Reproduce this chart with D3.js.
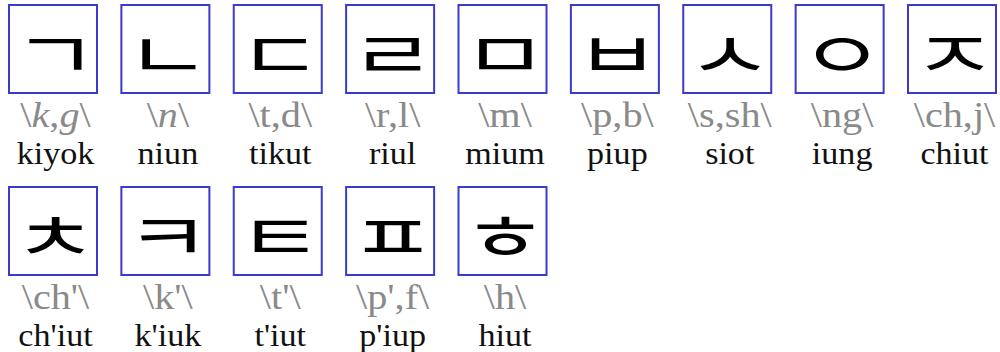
<!DOCTYPE html>
<html><head><meta charset="utf-8">
<script src="https://cdn.jsdelivr.net/npm/d3@7"></script>
<style>html,body{margin:0;padding:0;background:#fff;}svg{display:block;}</style>
</head><body>
<svg id="chart" width="1000" height="352"></svg>
<script>
// Data
const letters = ["ㄱ","ㄴ","ㄷ","ㄹ","ㅁ","ㅂ","ㅅ","ㅇ","ㅈ","ㅊ","ㅋ","ㅌ","ㅍ","ㅎ"];
const names = ["kiyok","niun","tikut","riul","mium","piup","siot","iung","chiut","ch'iut","k'iuk","t'iut","p'iup","hiut"];
// pronunciation segments: [text, italic]
const prons = [
  [["\\",0],["k",1],[",",0],["g",1],["\\",0]],
  [["\\",0],["n",1],["\\",0]],
  [["\\t,d\\",0]],
  [["\\r,l\\",0]],
  [["\\m\\",0]],
  [["\\p,b\\",0]],
  [["\\s,sh\\",0]],
  [["\\ng\\",0]],
  [["\\ch,j\\",0]],
  [["\\ch'\\",0]],
  [["\\k'\\",0]],
  [["\\t'\\",0]],
  [["\\p',f\\",0]],
  [["\\h\\",0]]
];
const perRow = 9;

const svg = d3.select("#chart");
const x = d3.scaleLinear().domain([0, 8]).range([8, 907]);
const y = d3.scaleLinear().domain([0, 1]).range([4, 186]);
const box = 89;

const cells = svg.selectAll("g.cell").data(letters.map((l,i)=>({l, i, name:names[i], pron:prons[i]})))
  .join("g").attr("class","cell")
  .attr("transform", d => `translate(${x(d.i % perRow)},${y(Math.floor(d.i / perRow))})`);

cells.append("rect").attr("x",1).attr("y",1).attr("width",box-1).attr("height",box-1)
  .attr("fill","#fff").attr("stroke","#3a3acc").attr("stroke-width",2);

cells.append("text").attr("transform", `translate(${box/2+3},${box/2+2}) scale(1.45,1)`)
  .attr("text-anchor","middle").attr("dominant-baseline","central")
  .attr("font-family","'Noto Sans CJK KR'").attr("font-size",64).attr("font-weight",400)
  .attr("fill","#000").text(d=>d.l);

const pt = cells.append("text").attr("transform", `translate(${box/2+3},123) scale(1.15,1)`)
  .attr("text-anchor","middle").attr("font-family","'Liberation Serif'")
  .attr("font-size",35).attr("fill","#8a8a8a");
pt.selectAll("tspan").data(d=>d.pron).join("tspan")
  .attr("font-style", s=>s[1]?"italic":"normal").text(s=>s[0]);

cells.append("text").attr("transform", `translate(${box/2+3},160) scale(1.1,1)`)
  .attr("text-anchor","middle").attr("font-family","'Liberation Serif'")
  .attr("font-size",31).attr("fill","#111").text(d=>d.name);
</script>
</body></html>
